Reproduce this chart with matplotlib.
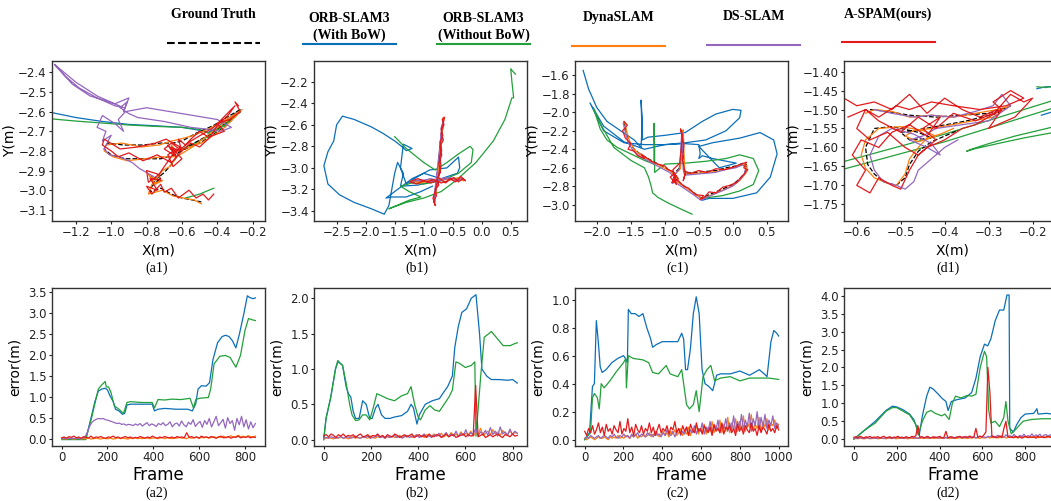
import numpy as np
import matplotlib
matplotlib.use('Agg')
import matplotlib.pyplot as plt
from matplotlib.lines import Line2D

nan = np.nan

# colours
C_GT = 'black'
C_ORB = '#0b6fb8'
C_ORBN = '#22a03a'
C_DYNA = '#ff7f0e'
C_DS = '#9467bd'
C_OURS = '#e31a1c'

legend_names = ['Ground Truth', 'ORB-SLAM3\n(With BoW)', 'ORB-SLAM3\n(Without BoW)',
                'DynaSLAM', 'DS-SLAM', 'A-SPAM(ours)']
captions_top = ['(a1)', '(b1)', '(c1)', '(d1)']
captions_bot = ['(a2)', '(b2)', '(c2)', '(d2)']

# ---------------- trajectories (a1) ----------------
gt1_x = [-0.27, -0.33, -0.42, -0.52, -0.60, -0.65, -0.72, -0.82, -0.93, -1.02, -1.04, -1.00, -0.92, -0.82, -0.72, -0.64, -0.55, -0.45, -0.36, -0.27, -0.36, -0.48, -0.58, -0.64, -0.67, -0.63, -0.66, -0.70, -0.74, -0.78, -0.76, -0.72, -0.77, -0.78, -0.72, -0.66, -0.60, -0.54, -0.49]
gt1_y = [-2.59, -2.62, -2.67, -2.71, -2.75, -2.76, -2.76, -2.77, -2.77, -2.76, -2.79, -2.82, -2.84, -2.84, -2.84, -2.82, -2.77, -2.72, -2.66, -2.60, -2.68, -2.75, -2.79, -2.80, -2.78, -2.83, -2.87, -2.91, -2.94, -2.93, -2.96, -2.94, -2.98, -3.01, -2.99, -3.02, -3.04, -3.05, -3.06]
dy1_x = [-0.26, -0.33, -0.43, -0.53, -0.61, -0.66, -0.73, -0.83, -0.94, -1.03, -1.04, -0.99, -0.91, -0.81, -0.71, -0.63, -0.54, -0.44, -0.35, -0.27, -0.37, -0.49, -0.59, -0.65, -0.66, -0.62, -0.67, -0.71, -0.75, -0.79, -0.75, -0.71, -0.77, -0.79, -0.71, -0.65, -0.59, -0.53, -0.49]
dy1_y = [-2.59, -2.63, -2.68, -2.72, -2.74, -2.75, -2.77, -2.78, -2.76, -2.77, -2.80, -2.83, -2.85, -2.84, -2.83, -2.83, -2.78, -2.71, -2.65, -2.60, -2.69, -2.76, -2.79, -2.81, -2.77, -2.82, -2.88, -2.90, -2.95, -2.92, -2.97, -2.95, -2.97, -3.02, -3.00, -3.03, -3.04, -3.05, -3.07]
rd1_x = [-0.28, -0.30, -0.27, -0.33, -0.40, -0.36, -0.45, -0.50, -0.55, -0.58, -0.62, -0.60, -0.66, -0.70, -0.63, -0.68, -0.64, -0.61, -0.69, -0.75, -0.85, -0.95, -1.04, -1.05, -1.00, -0.96, -0.90, -0.82, -0.74, -0.66, -0.60, -0.55, -0.50, -0.44, -0.40, -0.34, -0.30, -0.42, -0.55, -0.62, -0.66, -0.60, -0.65, -0.68, -0.63, -0.70, -0.73, -0.80, -0.79, -0.73, -0.72, -0.78, -0.74, -0.80, -0.77, -0.72, -0.70, -0.66, -0.62, -0.56, -0.52, -0.48, -0.45, -0.42]
rd1_y = [-2.57, -2.55, -2.60, -2.64, -2.66, -2.70, -2.73, -2.70, -2.74, -2.77, -2.74, -2.80, -2.76, -2.79, -2.83, -2.77, -2.81, -2.78, -2.74, -2.76, -2.78, -2.79, -2.74, -2.77, -2.80, -2.83, -2.81, -2.85, -2.82, -2.86, -2.80, -2.76, -2.78, -2.73, -2.67, -2.62, -2.57, -2.68, -2.75, -2.80, -2.78, -2.84, -2.88, -2.82, -2.79, -2.88, -2.92, -2.90, -2.96, -2.92, -2.95, -2.94, -3.00, -2.98, -3.02, -2.97, -3.01, -2.99, -3.04, -3.00, -3.04, -3.02, -3.05, -3.02]
ds1_x = [-1.32, -1.26, -1.18, -1.08, -0.98, -0.93, -1.08, -1.20, -1.32, -1.22, -1.12, -0.98, -0.90, -0.93, -0.91, -0.95, -0.90, -0.85, -0.70, -0.55, -0.45, -0.38, -0.32, -0.40, -0.60, -0.80, -0.92, -0.96, -0.93, -0.98, -1.05, -1.08, -1.03, -1.05, -1.00, -1.04, -1.01, -0.95, -0.88, -0.84, -0.80, -0.76]
ds1_y = [-2.36, -2.42, -2.48, -2.53, -2.57, -2.58, -2.52, -2.45, -2.36, -2.46, -2.52, -2.56, -2.53, -2.60, -2.55, -2.58, -2.61, -2.63, -2.65, -2.68, -2.69, -2.70, -2.68, -2.64, -2.61, -2.58, -2.60, -2.64, -2.70, -2.66, -2.62, -2.68, -2.70, -2.75, -2.72, -2.79, -2.82, -2.83, -2.86, -2.89, -2.91, -2.93]
ob1_x = [-1.335, -1.20, -1.05, -0.90, -0.75, -0.60, -0.50, -0.45, -0.40, -0.35, -0.30, -0.27, -0.33, -0.40, -0.44]
ob1_y = [-2.605, -2.63, -2.65, -2.665, -2.672, -2.68, -2.695, -2.705, -2.69, -2.66, -2.62, -2.59, -2.63, -2.68, -2.70]
og1_x = [-1.335, -1.20, -1.05, -0.90, -0.75, -0.60, -0.50, -0.45, -0.38, -0.32, -0.27, -0.36, -0.46, -0.55, -0.62, nan, -0.58, -0.50, -0.42]
og1_y = [-2.637, -2.648, -2.658, -2.668, -2.675, -2.68, -2.69, -2.71, -2.68, -2.64, -2.595, -2.67, -2.73, -2.77, -2.80, nan, -3.04, -3.02, -2.99]

# ---------------- trajectories (b1) ----------------
gt2_x = [-0.74, -0.72, -0.70, -0.69, -0.67, -0.66, -0.69, -0.72, -0.75, -0.78, -0.80, -0.82, -0.80, -0.77, -0.90, -1.05, -1.22, -1.05, -0.88, -0.70, -0.55, -0.40, -0.30, -0.45, -0.62, -0.75]
gt2_y = [-3.08, -2.95, -2.82, -2.72, -2.62, -2.54, -2.66, -2.82, -2.98, -3.12, -3.22, -3.33, -3.22, -3.12, -3.12, -3.12, -3.13, -3.13, -3.11, -3.11, -3.10, -3.10, -3.11, -3.11, -3.10, -3.10]
dy2_x = [-0.75, -0.72, -0.71, -0.69, -0.68, -0.66, -0.68, -0.71, -0.74, -0.77, -0.79, -0.81, -0.79, -0.76, -0.90, -1.05, -1.22, -1.06, -0.88, -0.70, -0.55, -0.40, -0.31, -0.44, -0.62, -0.75]
dy2_y = [-3.09, -2.96, -2.83, -2.71, -2.61, -2.53, -2.67, -2.83, -2.97, -3.11, -3.23, -3.32, -3.21, -3.13, -3.11, -3.13, -3.12, -3.14, -3.12, -3.10, -3.11, -3.09, -3.12, -3.10, -3.11, -3.10]
ds2_x = [-0.74, -0.71, -0.72, -0.68, -0.70, -0.66, -0.70, -0.73, -0.76, -0.79, -0.81, -0.82, -0.79, -0.76, -0.90, -1.05, -1.20, -1.04, -0.88, -0.70, -0.55, -0.40, -0.32, -0.46, -0.63, -0.74]
ds2_y = [-3.06, -2.94, -2.80, -2.72, -2.63, -2.56, -2.68, -2.84, -2.99, -3.13, -3.21, -3.31, -3.20, -3.11, -3.13, -3.11, -3.12, -3.12, -3.10, -3.12, -3.09, -3.11, -3.10, -3.12, -3.09, -3.11]
rd2_x = [-0.74, -0.70, -0.73, -0.69, -0.72, -0.67, -0.70, -0.65, -0.68, -0.64, -0.70, -0.66, -0.72, -0.69, -0.74, -0.71, -0.77, -0.74, -0.80, -0.78, -0.83, -0.80, -0.84, -0.79, -0.76, -0.88, -1.00, -1.12, -1.24, -1.10, -0.95, -0.82, -0.70, -0.58, -0.48, -0.40, -0.33, -0.28, -0.36, -0.45, -0.55, -0.62, -0.70, -0.75]
rd2_y = [-3.06, -2.98, -2.90, -2.84, -2.76, -2.70, -2.64, -2.60, -2.55, -2.53, -2.68, -2.74, -2.80, -2.88, -2.96, -3.04, -3.10, -3.16, -3.20, -3.26, -3.30, -3.35, -3.28, -3.20, -3.12, -3.14, -3.12, -3.15, -3.13, -3.10, -3.13, -3.11, -3.14, -3.12, -3.09, -3.13, -3.10, -3.12, -3.08, -3.13, -3.10, -3.14, -3.11, -3.09]
ob2_x = [-0.80, -1.10, -1.40, -1.35, -1.45, -1.50, -1.55, -1.60, -1.68, -1.90, -2.20, -2.45, -2.65, -2.72, -2.65, -2.55, -2.50, -2.40, -2.20, -1.90, -1.70, -1.50, -1.38, -1.30, -1.20, -1.35, -1.40, -1.30, -1.10, -0.90, -0.60, -0.40, -0.38, -0.42, -0.70, -1.00, -1.20, -1.40, -1.65, -1.55, -1.30, -1.05, -0.85]
ob2_y = [-3.12, -3.16, -3.17, -3.05, -2.95, -3.05, -3.20, -3.35, -3.43, -3.38, -3.32, -3.25, -3.15, -2.98, -2.85, -2.75, -2.60, -2.52, -2.55, -2.62, -2.68, -2.75, -2.80, -2.84, -2.82, -2.78, -3.00, -3.15, -3.08, -3.02, -3.00, -2.90, -3.00, -3.05, -3.10, -3.05, -3.10, -3.18, -3.28, -3.27, -3.27, -3.22, -3.17]
og2_x = [-1.50, -1.30, -1.00, -0.80, -0.60, -0.40, -0.20, -0.15, -0.18, -0.40, -0.70, -1.00, -1.20, -1.40, -1.25, -1.05, -1.25, -1.60, -1.30, -1.00, -0.70, -0.45, -0.10, 0.20, 0.40, 0.52, 0.55, 0.52, 0.50, 0.53, 0.58]
og2_y = [-2.71, -2.82, -2.95, -3.02, -2.95, -2.87, -2.80, -2.83, -2.95, -3.05, -3.12, -3.15, -3.14, -3.17, -3.22, -3.27, -3.30, -3.38, -3.32, -3.28, -3.22, -3.12, -2.95, -2.75, -2.55, -2.35, -2.35, -2.20, -2.08, -2.10, -2.13]

# ---------------- trajectories (c1) ----------------
gt3_x = [-1.60, -1.57, -1.52, -1.45, -1.35, -1.20, -1.05, -0.92, -0.85, -0.88, -0.82, -0.86, -0.78, -0.76, -0.75, -0.74, -0.73, -0.72, -0.70, -0.55, -0.40, -0.25, -0.10, 0.05, 0.15, 0.20, 0.18, 0.10, 0.00, -0.12, -0.25, -0.38, -0.46, -0.55, -0.65, -0.75, -0.83, -0.87]
gt3_y = [-2.10, -2.20, -2.32, -2.40, -2.46, -2.52, -2.58, -2.63, -2.68, -2.75, -2.72, -2.66, -2.60, -2.45, -2.30, -2.20, -2.40, -2.60, -2.66, -2.65, -2.64, -2.63, -2.60, -2.58, -2.55, -2.57, -2.65, -2.72, -2.78, -2.82, -2.86, -2.90, -2.93, -2.88, -2.83, -2.78, -2.74, -2.70]
dy3_x = [-1.59, -1.56, -1.51, -1.44, -1.34, -1.19, -1.04, -0.91, -0.84, -0.87, -0.81, -0.85, -0.77, -0.75, -0.74, -0.73, -0.72, -0.71, -0.69, -0.54, -0.39, -0.24, -0.09, 0.06, 0.16, 0.21, 0.19, 0.11, 0.01, -0.11, -0.24, -0.37, -0.45, -0.54, -0.64, -0.74, -0.82, -0.86]
dy3_y = [-2.11, -2.21, -2.33, -2.41, -2.47, -2.53, -2.59, -2.64, -2.69, -2.76, -2.73, -2.67, -2.61, -2.46, -2.31, -2.19, -2.41, -2.61, -2.67, -2.66, -2.65, -2.64, -2.61, -2.59, -2.56, -2.58, -2.66, -2.73, -2.79, -2.83, -2.87, -2.91, -2.94, -2.89, -2.84, -2.79, -2.75, -2.71]
ds3_x = [-1.61, -1.58, -1.53, -1.46, -1.36, -1.21, -1.06, -0.93, -0.86, -0.89, -0.83, -0.87, -0.79, -0.77, -0.76, -0.75, -0.74, -0.73, -0.71, -0.56, -0.41, -0.26, -0.11, 0.04, 0.14, 0.19, 0.17, 0.09, -0.01, -0.13, -0.26, -0.39, -0.47, -0.56, -0.66, -0.76, -0.84, -0.88]
ds3_y = [-2.12, -2.22, -2.34, -2.42, -2.48, -2.54, -2.60, -2.65, -2.70, -2.77, -2.74, -2.68, -2.62, -2.47, -2.32, -2.22, -2.42, -2.62, -2.68, -2.67, -2.66, -2.65, -2.62, -2.60, -2.57, -2.59, -2.67, -2.74, -2.80, -2.84, -2.88, -2.92, -2.95, -2.90, -2.85, -2.80, -2.76, -2.72]
rd3_x = [-1.60, -1.55, -1.62, -1.58, -1.50, -1.54, -1.45, -1.40, -1.30, -1.35, -1.20, -1.10, -1.00, -0.95, -0.88, -0.84, -0.90, -0.80, -0.86, -0.92, -0.83, -0.88, -0.78, -0.76, -0.74, -0.77, -0.72, -0.74, -0.70, -0.73, -0.69, -0.62, -0.50, -0.38, -0.25, -0.12, 0.02, 0.12, 0.20, 0.16, 0.22, 0.15, 0.05, -0.05, -0.15, -0.25, -0.35, -0.42, -0.48, -0.43, -0.55, -0.65, -0.72, -0.80, -0.86, -0.84]
rd3_y = [-2.10, -2.14, -2.20, -2.28, -2.34, -2.40, -2.42, -2.47, -2.50, -2.45, -2.53, -2.56, -2.58, -2.62, -2.64, -2.70, -2.76, -2.72, -2.66, -2.70, -2.78, -2.62, -2.55, -2.40, -2.25, -2.18, -2.35, -2.52, -2.66, -2.74, -2.64, -2.66, -2.63, -2.65, -2.61, -2.62, -2.59, -2.56, -2.54, -2.60, -2.62, -2.68, -2.76, -2.79, -2.81, -2.87, -2.86, -2.92, -2.94, -2.90, -2.89, -2.82, -2.80, -2.74, -2.72, -2.69]
ob3_x = [-2.20, -2.12, -2.00, -1.85, -1.65, -1.45, -1.35, -1.33, -1.35, -1.33, -1.25, -1.00, -0.70, -0.45, -0.25, 0.00, 0.12, 0.10, -0.10, -0.40, -0.70, -1.00, -1.30, -1.60, -1.90, -2.10, -1.90, -1.60, -1.30, -1.00, -0.70, -0.50, -0.48, -0.50, -0.45, -0.30, 0.05, -0.20, -0.50, -0.30, 0.10, 0.40, 0.60, 0.65, 0.55, 0.35, 0.00, -0.35, -0.45]
ob3_y = [-1.55, -1.75, -1.95, -2.10, -2.20, -2.30, -2.38, -2.10, -1.87, -2.30, -2.27, -2.25, -2.22, -2.10, -2.02, -1.97, -1.98, -2.06, -2.20, -2.30, -2.33, -2.35, -2.35, -2.33, -2.20, -1.90, -2.15, -2.32, -2.40, -2.35, -2.34, -2.35, -2.45, -2.50, -2.47, -2.50, -2.55, -2.60, -2.37, -2.33, -2.28, -2.22, -2.30, -2.45, -2.70, -2.87, -2.93, -2.93, -2.95]
og3_x = [-0.60, -0.75, -0.95, -1.10, -1.18, -1.20, -1.24, -1.30, -1.50, -1.75, -1.95, -2.05, -1.95, -1.85, -1.70, -1.50, -1.30, -1.16, -1.16, -1.15, -1.15, -1.00, -0.70, -0.40, -0.10, 0.10, 0.30, 0.38, 0.30, 0.10, -0.15, -0.45]
og3_y = [-3.10, -3.05, -2.98, -2.92, -2.87, -2.80, -2.70, -2.60, -2.52, -2.38, -2.12, -1.95, -2.18, -2.30, -2.38, -2.45, -2.52, -2.56, -2.12, -2.40, -2.65, -2.56, -2.55, -2.53, -2.50, -2.46, -2.50, -2.63, -2.78, -2.85, -2.90, -2.93]

# ---------------- trajectories (d1) ----------------
gt4_x = [-0.57, -0.53, -0.48, -0.42, -0.36, -0.30, -0.25, -0.28, -0.35, -0.42, -0.47, -0.50, -0.48, -0.43, -0.46, -0.52, -0.56, -0.58, -0.575, -0.56, -0.54, -0.51, -0.49, -0.48, -0.46, -0.43, -0.40, -0.37]
gt4_y = [-1.50, -1.505, -1.515, -1.52, -1.515, -1.51, -1.49, -1.51, -1.53, -1.545, -1.555, -1.56, -1.58, -1.575, -1.56, -1.545, -1.55, -1.60, -1.645, -1.67, -1.69, -1.70, -1.68, -1.645, -1.61, -1.585, -1.57, -1.555]
dy4_x = [-0.58, -0.56, -0.52, -0.48, -0.43, -0.38, -0.33, -0.28, -0.25, -0.29, -0.36, -0.43, -0.47, -0.49, -0.46, -0.42, -0.45, -0.50, -0.55, -0.58, -0.59, -0.58, -0.56, -0.53, -0.51, -0.49, -0.48, -0.46, -0.44, -0.41, -0.38]
dy4_y = [-1.51, -1.50, -1.505, -1.52, -1.515, -1.52, -1.51, -1.50, -1.49, -1.52, -1.535, -1.55, -1.555, -1.57, -1.585, -1.57, -1.555, -1.545, -1.55, -1.58, -1.62, -1.655, -1.68, -1.695, -1.70, -1.67, -1.63, -1.60, -1.575, -1.565, -1.55]
ds4_x = [-0.56, -0.52, -0.47, -0.43, -0.38, -0.33, -0.29, -0.27, -0.25, -0.30, -0.36, -0.42, -0.45, -0.48, -0.44, -0.41, -0.43, -0.47, -0.52, -0.55, -0.57, -0.56, -0.54, -0.51, -0.49, -0.47, -0.46, -0.44, -0.42, -0.40, -0.37]
ds4_y = [-1.50, -1.51, -1.52, -1.515, -1.52, -1.505, -1.49, -1.46, -1.49, -1.53, -1.54, -1.55, -1.57, -1.58, -1.60, -1.62, -1.59, -1.565, -1.55, -1.57, -1.62, -1.66, -1.69, -1.70, -1.71, -1.69, -1.66, -1.64, -1.62, -1.60, -1.58]
rd4_x = [-0.629, -0.60, -0.56, -0.52, -0.48, -0.44, -0.40, -0.36, -0.32, -0.28, -0.25, -0.22, -0.20, -0.24, -0.30, -0.27, -0.33, -0.38, -0.42, -0.46, -0.50, -0.55, -0.58, -0.60, -0.57, -0.53, -0.49, -0.46, -0.42, -0.45, -0.41, -0.44, -0.48, -0.52, -0.55, -0.59, -0.61, -0.58, -0.60, -0.57, -0.55, -0.52, -0.50, -0.48, -0.46, -0.44, -0.40, -0.36, -0.33, -0.30, -0.27, -0.29, -0.25, -0.22, -0.26, -0.32, -0.38, -0.43, -0.48, -0.51, -0.55, -0.58, -0.62]
rd4_y = [-1.47, -1.49, -1.48, -1.50, -1.46, -1.51, -1.47, -1.50, -1.52, -1.50, -1.46, -1.48, -1.47, -1.52, -1.55, -1.50, -1.53, -1.51, -1.55, -1.52, -1.56, -1.53, -1.50, -1.55, -1.58, -1.56, -1.60, -1.62, -1.58, -1.55, -1.52, -1.57, -1.54, -1.56, -1.60, -1.58, -1.62, -1.66, -1.70, -1.72, -1.68, -1.70, -1.71, -1.66, -1.62, -1.60, -1.58, -1.55, -1.54, -1.52, -1.50, -1.48, -1.45, -1.47, -1.49, -1.50, -1.49, -1.48, -1.50, -1.49, -1.52, -1.50, -1.52]
ob4_x = [-0.19, -0.17, -0.15, nan, -0.18, -0.16, -0.14]
ob4_y = [-1.445, -1.44, -1.44, nan, -1.515, -1.508, -1.50]
og4_x = [-0.629, -0.40, -0.15, nan, -0.629, -0.40, -0.15, nan, -0.15, -0.22, -0.28, -0.33, -0.35, -0.34, -0.30, -0.24, -0.15, nan, -0.19, -0.17, -0.15]
og4_y = [-1.637, -1.565, -1.475, nan, -1.657, -1.585, -1.495, nan, -1.56, -1.575, -1.59, -1.603, -1.61, -1.605, -1.59, -1.57, -1.545, nan, -1.44, -1.442, -1.438]

# ---------------- errors (a2) ----------------
a2_frames = 845
a2_blue_f = [0, 105, 130, 145, 160, 175, 190, 200, 210, 225, 235, 250, 265, 275, 285, 300, 350, 395, 405, 420, 450, 500, 550, 570, 585, 595, 610, 630, 645, 660, 680, 700, 715, 730, 745, 760, 775, 795, 810, 820, 835, 845]
a2_blue = [0.0, 0.0, 0.55, 0.9, 1.15, 1.2, 1.22, 1.18, 1.05, 0.9, 0.72, 0.68, 0.6, 0.62, 0.82, 0.84, 0.84, 0.84, 0.68, 0.72, 0.74, 0.72, 0.72, 0.68, 0.85, 1.2, 1.28, 1.27, 1.35, 1.9, 2.3, 2.45, 2.48, 2.45, 2.35, 2.18, 2.5, 3.0, 3.42, 3.38, 3.35, 3.37]
a2_green_f = [0, 105, 130, 145, 160, 175, 190, 195, 205, 215, 230, 250, 270, 285, 300, 350, 395, 405, 420, 450, 480, 520, 560, 575, 585, 600, 640, 650, 665, 690, 715, 735, 760, 780, 800, 815, 830, 845]
a2_green = [0.0, 0.0, 0.5, 0.85, 1.2, 1.3, 1.38, 1.25, 1.25, 1.12, 0.8, 0.72, 0.62, 0.88, 0.9, 0.88, 0.88, 0.75, 0.95, 0.94, 0.96, 0.95, 0.98, 0.75, 0.95, 0.98, 1.0, 1.2, 1.8, 1.98, 2.0, 1.95, 1.72, 2.0, 2.6, 2.88, 2.85, 2.83]
a2_red = [0.04, 0.06, 0.03, 0.07, 0.05, 0.08, 0.04, 0.06, 0.03, 0.07, 0.05, 0.04, 0.08, 0.03, 0.06, 0.05, 0.07, 0.04, 0.03, 0.06, 0.05, 0.08, 0.04, 0.06, 0.03, 0.05, 0.07, 0.04, 0.06, 0.03, 0.05, 0.04, 0.07, 0.05, 0.03, 0.06, 0.04, 0.08, 0.05, 0.03, 0.06, 0.04, 0.07, 0.05, 0.04, 0.06, 0.03, 0.07, 0.05, 0.06, 0.04, 0.16, 0.05, 0.07, 0.04, 0.06, 0.03, 0.08, 0.05, 0.06, 0.04, 0.07, 0.05, 0.03, 0.06, 0.08, 0.04, 0.05, 0.07, 0.03, 0.06, 0.05, 0.08, 0.04, 0.06, 0.05, 0.07, 0.04, 0.06, 0.05]
a2_orange = [0.01, 0.02, 0.01, 0.03, 0.02, 0.01, 0.02, 0.03, 0.01, 0.02, 0.02, 0.03, 0.01, 0.02, 0.03, 0.02, 0.01, 0.03, 0.02, 0.02, 0.03, 0.01, 0.02, 0.04, 0.02, 0.03, 0.02, 0.01, 0.03, 0.02, 0.04, 0.02, 0.03, 0.02, 0.04, 0.03, 0.02, 0.03, 0.04, 0.02, 0.03, 0.05, 0.02, 0.04, 0.03, 0.02, 0.04, 0.03, 0.05, 0.03, 0.04, 0.02, 0.05, 0.03, 0.04, 0.06, 0.03, 0.05, 0.04, 0.06, 0.03, 0.05, 0.07, 0.04, 0.06, 0.05, 0.08, 0.04, 0.06, 0.09, 0.05, 0.07, 0.10, 0.06, 0.08, 0.05, 0.09, 0.07, 0.06, 0.08]
a2_purple = [0.02, 0.03, 0.02, 0.03, 0.02, 0.03, 0.02, 0.03, 0.02, 0.03, 0.05,
             0.15, 0.30, 0.40, 0.45, 0.48, 0.50, 0.49, 0.50, 0.47, 0.46,
             0.44, 0.42, 0.40, 0.38, 0.39, 0.36, 0.37, 0.34, 0.36, 0.35,
             0.33, 0.37, 0.34, 0.38, 0.32, 0.36, 0.40, 0.33, 0.37, 0.35,
             0.31, 0.38, 0.35, 0.40, 0.33, 0.36, 0.42, 0.30, 0.37, 0.39,
             0.32, 0.44, 0.35, 0.30, 0.41, 0.36, 0.47, 0.31, 0.38, 0.43,
             0.29, 0.45, 0.36, 0.50, 0.30, 0.42, 0.55, 0.33, 0.40, 0.48,
             0.27, 0.52, 0.38, 0.45, 0.22, 0.50, 0.35, 0.55, 0.30, 0.47,
             0.25, 0.42, 0.28, 0.38]

# ---------------- errors (b2) ----------------
b2_frames = 820
b2_blue_f = [0, 10, 30, 50, 60, 70, 80, 95, 105, 115, 125, 135, 150, 165, 180, 195, 205, 220, 230, 245, 260, 280, 300, 330, 355, 370, 380, 395, 405, 430, 460, 490, 510, 525, 545, 555, 570, 585, 605, 625, 645, 660, 670, 690, 710, 740, 780, 800, 820]
b2_blue = [0.0, 0.3, 0.6, 1.0, 1.1, 1.08, 1.05, 0.75, 0.65, 0.6, 0.4, 0.3, 0.3, 0.55, 0.5, 0.3, 0.3, 0.45, 0.5, 0.35, 0.3, 0.3, 0.32, 0.34, 0.4, 0.5, 0.45, 0.22, 0.35, 0.5, 0.55, 0.58, 0.68, 0.75, 0.9, 1.3, 1.6, 1.8, 1.85, 2.0, 2.05, 1.5, 1.0, 0.9, 0.85, 0.85, 0.84, 0.85, 0.8]
b2_green_f = [0, 10, 30, 50, 60, 70, 80, 95, 110, 120, 135, 150, 165, 180, 195, 210, 225, 245, 270, 300, 330, 355, 370, 385, 400, 410, 430, 450, 470, 490, 510, 530, 545, 560, 575, 600, 625, 640, 645, 665, 680, 700, 710, 730, 760, 790, 810, 820]
b2_green = [0.0, 0.3, 0.6, 1.0, 1.12, 1.08, 1.05, 0.8, 0.5, 0.35, 0.27, 0.28, 0.35, 0.35, 0.28, 0.45, 0.65, 0.62, 0.58, 0.55, 0.62, 0.65, 0.75, 0.5, 0.32, 0.28, 0.42, 0.48, 0.42, 0.4, 0.5, 0.6, 0.7, 1.1, 1.08, 1.02, 1.05, 1.1, 0.05, 0.9, 1.45, 1.5, 1.53, 1.45, 1.33, 1.33, 1.36, 1.37]
b2_red = [0.05, 0.07, 0.04, 0.08, 0.06, 0.03, 0.07, 0.05, 0.08, 0.04, 0.06, 0.05, 0.07, 0.03, 0.06, 0.08, 0.04, 0.05, 0.07, 0.03, 0.06, 0.05, 0.08, 0.04, 0.06, 0.03, 0.07, 0.05, 0.04, 0.08, 0.06, 0.03, 0.05, 0.07, 0.04, 0.06, 0.08, 0.03, 0.05, 0.07, 0.04, 0.06, 0.03, 0.08, 0.05, 0.04, 0.07, 0.06, 0.03, 0.05, 0.08, 0.04, 0.06, 0.07, 0.03, 0.05, 0.06, 0.08, 0.04, 0.07, 0.05, 0.06, 0.77, 0.04, 0.06, 0.08, 0.03, 0.05, 0.07, 0.04, 0.06, 0.08, 0.05, 0.03, 0.07, 0.06, 0.04, 0.08, 0.05, 0.06]
b2_purple = [0.02, 0.03, 0.02, 0.04, 0.03, 0.02, 0.03, 0.04, 0.02, 0.03, 0.04, 0.02, 0.03, 0.05, 0.03, 0.02, 0.04, 0.03, 0.05, 0.02, 0.03, 0.04, 0.06, 0.03, 0.04, 0.02, 0.05, 0.03, 0.04, 0.06, 0.03, 0.05, 0.02, 0.04, 0.06, 0.03, 0.05, 0.04, 0.07, 0.03, 0.05, 0.08, 0.04, 0.06, 0.03, 0.07, 0.05, 0.09, 0.04, 0.06, 0.10, 0.04, 0.08, 0.05, 0.12, 0.04, 0.09, 0.06, 0.14, 0.05, 0.10, 0.07, 0.16, 0.05, 0.11, 0.08, 0.13, 0.06, 0.17, 0.07, 0.12, 0.05, 0.18, 0.08, 0.11, 0.06, 0.15, 0.07, 0.12, 0.09]
b2_orange = [0.01, 0.02, 0.03, 0.02, 0.01, 0.03, 0.02, 0.04, 0.02, 0.03, 0.01, 0.03, 0.04, 0.02, 0.03, 0.02, 0.04, 0.03, 0.02, 0.05, 0.03, 0.02, 0.04, 0.03, 0.05, 0.02, 0.04, 0.03, 0.05, 0.03, 0.04, 0.06, 0.03, 0.05, 0.04, 0.06, 0.03, 0.05, 0.07, 0.04, 0.06, 0.03, 0.07, 0.05, 0.04, 0.08, 0.05, 0.06, 0.09, 0.04, 0.07, 0.05, 0.10, 0.06, 0.08, 0.05, 0.11, 0.06, 0.09, 0.07, 0.12, 0.05, 0.10, 0.07, 0.16, 0.06, 0.09, 0.12, 0.07, 0.14, 0.08, 0.11, 0.06, 0.13, 0.09, 0.07, 0.12, 0.08, 0.10, 0.09]

# ---------------- errors (c2) ----------------
c2_frames = 1000
c2_blue_f = [0, 25, 40, 50, 60, 70, 80, 90, 110, 140, 170, 200, 210, 220, 225, 240, 260, 280, 300, 320, 340, 350, 370, 400, 440, 480, 500, 510, 520, 530, 545, 560, 575, 590, 605, 620, 640, 660, 680, 700, 750, 800, 850, 900, 925, 940, 960, 975, 990, 1000]
c2_blue = [0.0, 0.05, 0.38, 0.4, 0.85, 0.7, 0.52, 0.48, 0.5, 0.55, 0.58, 0.6, 0.58, 0.55, 0.93, 0.9, 0.9, 0.88, 0.9, 0.8, 0.72, 0.66, 0.68, 0.7, 0.7, 0.7, 0.76, 0.72, 0.5, 0.5, 0.65, 0.9, 1.02, 0.9, 0.5, 0.4, 0.38, 0.35, 0.46, 0.47, 0.47, 0.49, 0.46, 0.5, 0.47, 0.45, 0.7, 0.78, 0.76, 0.74]
c2_green_f = [0, 30, 40, 50, 65, 75, 85, 100, 130, 160, 200, 212, 215, 225, 250, 300, 330, 350, 380, 400, 420, 440, 480, 500, 510, 525, 540, 560, 575, 590, 610, 630, 650, 670, 700, 750, 800, 850, 900, 950, 1000]
c2_green = [0.0, 0.05, 0.3, 0.33, 0.3, 0.22, 0.4, 0.37, 0.42, 0.48, 0.55, 0.58, 0.37, 0.6, 0.58, 0.57, 0.55, 0.48, 0.47, 0.5, 0.53, 0.47, 0.45, 0.5, 0.4, 0.25, 0.22, 0.25, 0.35, 0.2, 0.45, 0.5, 0.53, 0.42, 0.44, 0.45, 0.42, 0.44, 0.44, 0.44, 0.43]
c2_red = [0.06, 0.03, 0.08, 0.05, 0.10, 0.04, 0.07, 0.12, 0.05, 0.09, 0.03, 0.11, 0.06, 0.08, 0.04, 0.10, 0.07, 0.05, 0.13, 0.04, 0.08, 0.06, 0.15, 0.05, 0.09, 0.03, 0.11, 0.07, 0.05, 0.10, 0.04, 0.08, 0.06, 0.12, 0.05, 0.09, 0.03, 0.07, 0.11, 0.05, 0.08, 0.06, 0.10, 0.04, 0.09, 0.07, 0.13, 0.05, 0.08, 0.04, 0.10, 0.06, 0.09, 0.03, 0.11, 0.07, 0.05, 0.12, 0.06, 0.08, 0.04, 0.10, 0.07, 0.05, 0.09, 0.03, 0.11, 0.06, 0.08, 0.05, 0.12, 0.04, 0.09, 0.07, 0.10, 0.05, 0.08, 0.03, 0.11, 0.06, 0.09, 0.04, 0.10, 0.07, 0.05, 0.12, 0.06, 0.08, 0.03, 0.10, 0.05, 0.09, 0.07, 0.04, 0.11, 0.06, 0.08, 0.05, 0.10, 0.07]
c2_purple = [0.01, 0.02, 0.01, 0.03, 0.02, 0.01, 0.02, 0.03, 0.01, 0.02, 0.03, 0.02, 0.01, 0.03, 0.02, 0.04, 0.02, 0.01, 0.03, 0.02, 0.04, 0.02, 0.03, 0.01, 0.04, 0.02, 0.03, 0.05, 0.02, 0.04, 0.03, 0.02, 0.05, 0.03, 0.04, 0.02, 0.06, 0.03, 0.04, 0.02, 0.05, 0.03, 0.07, 0.04, 0.03, 0.06, 0.02, 0.05, 0.08, 0.03, 0.06, 0.04, 0.09, 0.03, 0.07, 0.05, 0.10, 0.04, 0.08, 0.06, 0.12, 0.04, 0.09, 0.06, 0.13, 0.05, 0.10, 0.07, 0.14, 0.05, 0.11, 0.08, 0.15, 0.06, 0.12, 0.07, 0.17, 0.06, 0.13, 0.08, 0.18, 0.07, 0.14, 0.09, 0.19, 0.06, 0.15, 0.10, 0.20, 0.07, 0.16, 0.09, 0.18, 0.08, 0.14, 0.10, 0.17, 0.08, 0.12, 0.09]
c2_orange = [0.01, 0.00, 0.01, 0.02, 0.01, 0.00, 0.01, 0.02, 0.01, 0.01, 0.02, 0.01, 0.00, 0.02, 0.01, 0.02, 0.01, 0.03, 0.01, 0.02, 0.01, 0.03, 0.02, 0.01, 0.03, 0.02, 0.04, 0.01, 0.03, 0.02, 0.04, 0.02, 0.03, 0.05, 0.02, 0.04, 0.03, 0.05, 0.02, 0.04, 0.06, 0.03, 0.05, 0.02, 0.06, 0.04, 0.07, 0.03, 0.05, 0.08, 0.03, 0.06, 0.04, 0.09, 0.03, 0.07, 0.05, 0.10, 0.04, 0.08, 0.05, 0.11, 0.04, 0.09, 0.06, 0.13, 0.05, 0.10, 0.07, 0.14, 0.05, 0.11, 0.06, 0.16, 0.05, 0.12, 0.08, 0.15, 0.06, 0.13, 0.07, 0.17, 0.06, 0.12, 0.09, 0.18, 0.07, 0.11, 0.08, 0.16, 0.06, 0.13, 0.09, 0.15, 0.07, 0.12, 0.10, 0.14, 0.08, 0.11]

# ---------------- errors (d2) ----------------
d2_frames = 925
d2_blue_f = [0, 50, 100, 150, 180, 200, 230, 260, 280, 295, 305, 320, 340, 355, 370, 395, 410, 430, 440, 455, 480, 520, 550, 570, 590, 610, 625, 640, 660, 680, 700, 715, 725, 728, 745, 760, 780, 800, 840, 855, 860, 900, 925]
d2_blue = [0.0, 0.25, 0.5, 0.8, 0.92, 0.9, 0.82, 0.7, 0.55, 0.3, 0.1, 0.65, 1.2, 1.45, 1.4, 1.25, 1.15, 1.05, 0.8, 1.05, 1.1, 1.15, 1.3, 1.7, 2.3, 2.65, 2.6, 2.8, 3.3, 3.6, 3.6, 4.02, 4.02, 0.3, 0.2, 0.4, 0.6, 0.7, 0.72, 0.85, 0.7, 0.72, 0.7]
d2_green_f = [0, 50, 100, 150, 180, 200, 230, 260, 280, 290, 300, 320, 340, 360, 380, 410, 425, 445, 460, 475, 500, 530, 550, 570, 590, 610, 620, 630, 640, 660, 680, 700, 710, 720, 735, 760, 790, 830, 880, 925]
d2_green = [0.0, 0.25, 0.45, 0.78, 0.88, 0.88, 0.78, 0.68, 0.5, 0.4, 0.12, 0.5, 0.75, 0.8, 0.72, 0.65, 0.7, 0.55, 1.0, 1.2, 1.15, 1.22, 1.2, 1.25, 2.0, 2.45, 2.3, 0.8, 0.45, 0.5, 0.35, 0.6, 1.05, 0.5, 0.15, 0.3, 0.5, 0.55, 0.57, 0.57]
d2_red = [0.05, 0.07, 0.04, 0.08, 0.06, 0.03, 0.07, 0.05, 0.08, 0.04,
          0.06, 0.05, 0.07, 0.03, 0.06, 0.08, 0.04, 0.05, 0.07, 0.03,
          0.06, 0.05, 0.08, 0.04, 0.06, 0.03, 0.07, 0.05, 0.04, 0.08,
          0.06, 0.10, 0.38, 0.05, 0.07, 0.04, 0.06, 0.08, 0.03, 0.05,
          0.07, 0.04, 0.06, 0.08, 0.03, 0.05, 0.22, 0.04, 0.06, 0.07,
          0.03, 0.05, 0.06, 0.08, 0.04, 0.07, 0.05, 0.06, 0.09, 0.04,
          0.07, 0.30, 0.05, 0.08, 0.06, 0.12, 0.20, 2.00, 1.30, 0.06,
          0.08, 0.04, 0.06, 0.09, 0.05, 0.30, 0.50, 0.07, 0.05, 0.06,
          0.04, 0.08, 0.05, 0.07, 0.03, 0.06, 0.08, 0.04, 0.07, 0.05,
          0.06, 0.03, 0.08, 0.05, 0.07, 0.04, 0.06, 0.08, 0.05, 0.07]
d2_purple = [0.02, 0.03, 0.02, 0.04, 0.03, 0.02, 0.03, 0.04, 0.02, 0.03,
             0.04, 0.02, 0.03, 0.05, 0.03, 0.02, 0.04, 0.03, 0.05, 0.02,
             0.03, 0.04, 0.06, 0.03, 0.04, 0.02, 0.05, 0.03, 0.04, 0.06,
             0.03, 0.05, 0.02, 0.04, 0.06, 0.03, 0.05, 0.04, 0.03, 0.05,
             0.04, 0.06, 0.03, 0.05, 0.04, 0.02, 0.05, 0.03, 0.06, 0.04,
             0.03, 0.05, 0.07, 0.04, 0.06, 0.03, 0.08, 0.04, 0.06, 0.05,
             0.07, 0.04, 0.06, 0.09, 0.05, 0.07, 0.04, 0.08, 0.06, 0.10,
             0.05, 0.07, 0.11, 0.06, 0.09, 0.05, 0.12, 0.07, 0.10, 0.06,
             0.13, 0.08, 0.05, 0.11, 0.07, 0.14, 0.06, 0.10, 0.08, 0.15,
             0.07, 0.12, 0.09, 0.14, 0.06, 0.11, 0.13, 0.08, 0.12, 0.10]
d2_orange = [0.01, 0.02, 0.01, 0.03, 0.02, 0.01, 0.02, 0.03, 0.01, 0.02,
             0.02, 0.03, 0.01, 0.02, 0.03, 0.02, 0.01, 0.03, 0.02, 0.02,
             0.03, 0.01, 0.02, 0.03, 0.02, 0.03, 0.02, 0.01, 0.03, 0.02,
             0.03, 0.02, 0.04, 0.02, 0.03, 0.02, 0.03, 0.02, 0.04, 0.03,
             0.02, 0.03, 0.04, 0.02, 0.03, 0.02, 0.04, 0.03, 0.02, 0.03,
             0.04, 0.02, 0.03, 0.05, 0.02, 0.04, 0.03, 0.02, 0.04, 0.03,
             0.05, 0.03, 0.04, 0.02, 0.05, 0.03, 0.04, 0.06, 0.03, 0.05,
             0.04, 0.06, 0.03, 0.05, 0.04, 0.07, 0.03, 0.05, 0.06, 0.04,
             0.07, 0.05, 0.03, 0.06, 0.04, 0.08, 0.05, 0.06, 0.04, 0.07,
             0.05, 0.08, 0.04, 0.06, 0.05, 0.07, 0.04, 0.06, 0.08, 0.05]

# axis limits and ticks
top_lims = [((-1.335, -0.13), (-3.157, -2.342)), ((-2.89, 0.78), (-3.493, -2.008)),
            ((-2.32, 0.81), (-3.174, -1.448)), ((-0.629, -0.133), (-1.794, -1.372))]
top_xticks = [[-1.2, -1.0, -0.8, -0.6, -0.4, -0.2], [-2.5, -2.0, -1.5, -1.0, -0.5, 0.0, 0.5],
              [-2.0, -1.5, -1.0, -0.5, 0.0, 0.5], [-0.6, -0.5, -0.4, -0.3, -0.2]]
top_yticks = [[-3.1, -3.0, -2.9, -2.8, -2.7, -2.6, -2.5, -2.4],
              [-3.4, -3.2, -3.0, -2.8, -2.6, -2.4, -2.2],
              [-3.0, -2.8, -2.6, -2.4, -2.2, -2.0, -1.8, -1.6],
              [-1.75, -1.70, -1.65, -1.60, -1.55, -1.50, -1.45, -1.40]]
bot_lims = [((-42, 887), (-0.155, 3.605)), ((-41, 861), (-0.09, 2.145)),
            ((-50, 1048), (-0.045, 1.083)), ((-46, 972), (-0.19, 4.215))]
bot_xticks = [[0, 200, 400, 600, 800], [0, 200, 400, 600, 800],
              [0, 200, 400, 600, 800, 1000], [0, 200, 400, 600, 800]]
bot_yticks = [[0.0, 0.5, 1.0, 1.5, 2.0, 2.5, 3.0, 3.5], [0.0, 0.5, 1.0, 1.5, 2.0],
              [0.0, 0.2, 0.4, 0.6, 0.8, 1.0], [0.0, 0.5, 1.0, 1.5, 2.0, 2.5, 3.0, 3.5, 4.0]]

W, H = 1051, 501
fig = plt.figure(figsize=(W / 100, H / 100), dpi=100)


def px_axes(left, top, right, bottom):
    return fig.add_axes([left / W, 1 - bottom / H, (right - left) / W, (bottom - top) / H])


def style(ax, xt, yt, lims):
    ax.set_xlim(*lims[0])
    ax.set_ylim(*lims[1])
    ax.set_xticks(xt)
    ax.set_yticks(yt)
    ax.tick_params(labelsize=8.5, colors='#222222', length=2.5, width=0.8, pad=1.2)
    for s in ax.spines.values():
        s.set_color('#333333')
        s.set_linewidth(1.0)


lefts = [52, 314, 575, 844]
widths = [213, 213, 213, 218]

trajs = [
    (gt1_x, gt1_y, ob1_x, ob1_y, og1_x, og1_y, dy1_x, dy1_y, ds1_x, ds1_y, rd1_x, rd1_y),
    (gt2_x, gt2_y, ob2_x, ob2_y, og2_x, og2_y, dy2_x, dy2_y, ds2_x, ds2_y, rd2_x, rd2_y),
    (gt3_x, gt3_y, ob3_x, ob3_y, og3_x, og3_y, dy3_x, dy3_y, ds3_x, ds3_y, rd3_x, rd3_y),
    (gt4_x, gt4_y, ob4_x, ob4_y, og4_x, og4_y, dy4_x, dy4_y, ds4_x, ds4_y, rd4_x, rd4_y),
]

lw = 0.9
for i, t in enumerate(trajs):
    ax = px_axes(lefts[i], 61, lefts[i] + widths[i], 221)
    gx, gy, bx, by, grx, gry, ox, oy, px, py, rx, ry = t
    ax.plot(bx, by, color=C_ORB, lw=lw)
    ax.plot(grx, gry, color=C_ORBN, lw=lw)
    ax.plot(gx, gy, color=C_GT, lw=lw, ls='--')
    ax.plot(ox, oy, color=C_DYNA, lw=lw)
    ax.plot(px, py, color=C_DS, lw=lw)
    ax.plot(rx, ry, color=C_OURS, lw=lw)
    style(ax, top_xticks[i], top_yticks[i], top_lims[i])
    ax.set_xlabel('X(m)', fontsize=10, labelpad=3.5)
    ax.set_ylabel('Y(m)', fontsize=10, labelpad=1.5)

errs = [
    (a2_frames, a2_blue_f, a2_blue, a2_green_f, a2_green, a2_orange, a2_purple, a2_red),
    (b2_frames, b2_blue_f, b2_blue, b2_green_f, b2_green, b2_orange, b2_purple, b2_red),
    (c2_frames, c2_blue_f, c2_blue, c2_green_f, c2_green, c2_orange, c2_purple, c2_red),
    (d2_frames, d2_blue_f, d2_blue, d2_green_f, d2_green, d2_orange, d2_purple, d2_red),
]

for i, e in enumerate(errs):
    ax = px_axes(lefts[i], 288, lefts[i] + widths[i], 446)
    n, bf, bv, gf, gv, ov, pv, rv = e
    ax.plot(bf, bv, color=C_ORB, lw=lw)
    ax.plot(gf, gv, color=C_ORBN, lw=lw)
    ax.plot(np.linspace(0, n, len(ov)), ov, color=C_DYNA, lw=lw)
    ax.plot(np.linspace(0, n, len(pv)), pv, color=C_DS, lw=lw)
    ax.plot(np.linspace(0, n, len(rv)), rv, color=C_OURS, lw=lw)
    style(ax, bot_xticks[i], bot_yticks[i], bot_lims[i])
    ax.set_xlabel('Frame', fontsize=12, labelpad=1)
    ax.set_ylabel('error(m)', fontsize=10, labelpad=5)

# captions
cap_x = [157, 417, 678, 948]
for i in range(4):
    fig.text(cap_x[i] / W, 1 - 268 / H, captions_top[i], ha='center', va='center',
             fontsize=10, family='Liberation Serif')
    fig.text(cap_x[i] / W, 1 - 493 / H, captions_bot[i], ha='center', va='center',
             fontsize=10, family='Liberation Serif')

# legend across the top
leg_colors = [C_GT, C_ORB, C_ORBN, C_DYNA, C_DS, C_OURS]
leg_styles = ['--', '-', '-', '-', '-', '-']
leg_x0 = [167, 303, 437, 572, 707, 842]
leg_line_y = [43, 44, 44, 46, 45, 42]
leg_text_y = [15, 27, 27, 17, 17, 14]
for i in range(6):
    x0, x1 = leg_x0[i] / W, (leg_x0[i] + 93) / W
    yy = 1 - leg_line_y[i] / H
    fig.add_artist(Line2D([x0, x1], [yy, yy], color=leg_colors[i], lw=1.5,
                          ls=leg_styles[i], transform=fig.transFigure))
    fig.text((x0 + x1) / 2, 1 - leg_text_y[i] / H, legend_names[i], ha='center', va='center',
             fontsize=10, family='Liberation Serif', weight='bold', linespacing=1.3)

fig.savefig('out.png', dpi=100)
